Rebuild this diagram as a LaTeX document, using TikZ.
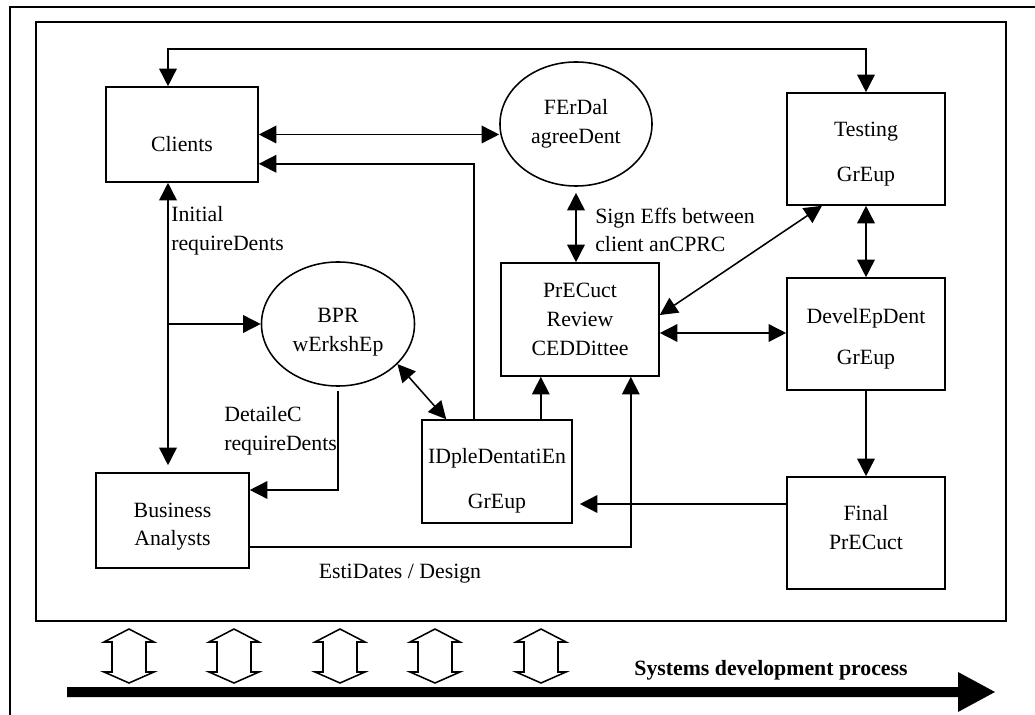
\documentclass[tikz,border=0pt]{standalone}
\usepackage{fontspec}
\setmainfont{Liberation Serif}
\usetikzlibrary{arrows.meta, positioning, calc, shapes}

\begin{document}
\begin{tikzpicture}[x=0.025cm, y=-0.025cm,
  box/.style={draw, line width=1.1pt, align=center, inner sep=2pt, font=\fontsize{15.5}{20.5}\selectfont},
  blob/.style={box, ellipse, inner sep=0pt},
  link/.style={line width=1.1pt, -{Triangle[length=4.4mm,width=4.4mm]}},
  twoway/.style={line width=1.1pt, {Triangle[length=4.4mm,width=4.4mm]}-{Triangle[length=4.4mm,width=4.4mm]}},
  note/.style={align=left, inner sep=0pt, font=\fontsize{15.5}{20.5}\selectfont}]
  \useasboundingbox (0,0) rectangle (1035,715);

  % frames
  \draw[line width=1.1pt] (1035,7) -- (10,7) -- (10,715);
  \draw[line width=1.1pt] (36,22) rectangle (1006,621);

  % groups
  \node[box, minimum width=3.8cm, minimum height=2.375cm] (clients) at (182,134.5) {\rule{0pt}{25pt}Clients};
  \node[blob, minimum width=3.8cm, minimum height=3.1cm] (formal) at (576,124) {FErDal\\agreeDent};
  \node[box, minimum width=3.95cm, minimum height=2.8cm] (testing) at (866,149) {\rule{0pt}{17.5pt}Testing\\[11pt]GrEup};
  \node[blob, minimum width=3.825cm, minimum height=3.1cm] (bpr) at (338,324) {\rule{0pt}{22pt}BPR\\wErkshEp};
  \node[box, minimum width=3.95cm, minimum height=2.825cm] (review) at (580,319.5) {PrECuct\\Review\\CEDDittee};
  \node[box, minimum width=3.95cm, minimum height=2.8cm] (devel) at (866,334) {\rule{0pt}{17.5pt}DevelEpDent\\[8.5pt]GrEup};
  \node[box, minimum width=3.75cm, minimum height=2.575cm] (impl) at (497,471.5) {\rule{0pt}{24pt}IDpleDentatiEn\\[11pt]GrEup};
  \node[box, minimum width=3.825cm, minimum height=2.375cm] (analysts) at (172.5,520.5) {\rule{0pt}{19pt}Business\\Analysts};
  \node[box, minimum width=3.95cm, minimum height=2.8cm] (final) at (866,533) {Final\\PrECuct\rule[-8pt]{0pt}{0pt}};

  % helper points
  \coordinate (trunk) at ($(clients.south)+(-14,0)$);
  \coordinate (ridge) at (500,49);
  \coordinate (up1) at ($(impl.north east)+(-32,0)$);
  \coordinate (rd) at ($(review.east)+(0,13.5)$);
  \coordinate (fp) at ($(final.west)+(0,-29)$);

  % connectors
  \draw[twoway] ($(clients.north)+(-14,0)$) |- (ridge) -| (testing.north);
  \draw[twoway] (clients.east) -- (clients.east -| formal.west);
  \draw[link] ($(impl.north)+(-23,0)$) |- ($(clients.south east)+(0,-19)$);
  \draw[twoway, shorten >=1.75mm] (trunk) -- (trunk |- analysts.north);
  \draw[link] (trunk |- bpr.west) -- (bpr.west);
  \draw[link, shorten <=1mm] (bpr.south) |- ($(analysts.east)+(0,-30.5)$);
  \draw[twoway] (bpr.-34) -- ($(impl.north west)+(25,0)$);
  \draw[link] (up1) -- (up1 |- review.south);
  \draw[link] ($(analysts.east)+(0,26.5)$) -| ($(review.south east)+(-29,0)$);
  \draw[twoway, shorten <=1.5mm] (formal.south) -- (formal.south |- review.north);
  \draw[twoway] ($(review.east)+(0,-4.5)$) -- ($(testing.south)+(-44,0)$);
  \draw[twoway] (rd) -- (rd -| devel.west);
  \draw[twoway] (testing.south) -- (devel.north);
  \draw[link] (devel.south) -- (final.north);
  \draw[link, shorten >=1.75mm] (fp) -- (fp -| impl.east);

  % labels
  \node[note, anchor=west] (initlbl) at (171,231) {Initial\\requireDents};
  \node[note, anchor=west] (signlbl) at (595,230) {Sign Effs between\\client anCPRC};
  \node[note, anchor=west] (detlbl) at (224,431) {DetaileC\\requireDents};
  \node[note] (estlbl) at (400,574) {EstiDates / Design};

  % process arrow
  \foreach \cx in {129,234,340,435,541}
    \draw[line width=1.1pt, fill=white] (\cx,629) -- (\cx+25,642) -- (\cx+17,642) -- (\cx+17,672)
      -- (\cx+25,672) -- (\cx,683) -- (\cx-25,672) -- (\cx-17,672) -- (\cx-17,642) -- (\cx-25,642) -- cycle;
  \fill (67,687) -- (958,687) -- (958,672) -- (995,692) -- (958,712) -- (958,697) -- (67,697) -- cycle;
  \node[font=\bfseries\fontsize{15.5}{18}\selectfont] (proclbl) at (771,670) {Systems development process};
\end{tikzpicture}
\end{document}
